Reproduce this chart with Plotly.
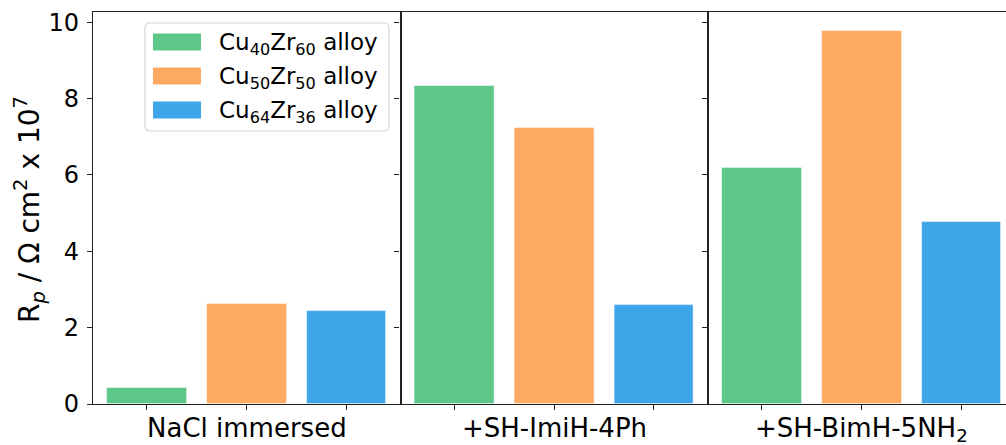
import plotly.graph_objects as go

# ---- data ----
conditions = ["NaCl immersed", "+SH-ImiH-4Ph", "+SH-BimH-5NH<sub>2</sub>"]
alloys = ["Cu<sub>40</sub>Zr<sub>60</sub> alloy",
          "Cu<sub>50</sub>Zr<sub>50</sub> alloy",
          "Cu<sub>64</sub>Zr<sub>36</sub> alloy"]
rp_cu40 = [0.43, 8.32, 6.17]
rp_cu50 = [2.63, 7.24, 9.78]
rp_cu64 = [2.43, 2.59, 4.77]
y_ticks = [0, 2, 4, 6, 8, 10]

series = [rp_cu40, rp_cu50, rp_cu64]
colors = ["#5dc689", "#ffaa63", "#3ea5e8"]

# ---- layout geometry (pixels) ----
W, H = 1006, 445
L, R, T, B = 93, 0, 12, 41
pw = W - L - R
ph = H - T - B


def px(x):
    return (x - L) / pw


def py(y):
    return (H - B - y) / ph


edges = [93, 400.5, 708, 1006]
unit = 99.8  # px per category unit
FONT = "DejaVu Sans"
FS = 23
FS_TICK = 24
FS_LABEL = 26
FS_YLABEL = 28
LINE = "#222222"

fig = go.Figure()
for j in range(3):
    for i in range(3):
        fig.add_trace(go.Bar(
            x=[i], y=[series[i][j]], width=0.8,
            marker=dict(color=colors[i], line=dict(color="rgba(255,255,255,0.6)", width=0.8)),
            name=alloys[i], showlegend=False,
            xaxis="x" if j == 0 else f"x{j+1}",
            yaxis="y" if j == 0 else f"y{j+1}",
        ))

ymax = max(max(s) for s in series) * 1.05
layout = dict(
    width=W, height=H,
    margin=dict(l=L, r=R, t=T, b=B, pad=0),
    paper_bgcolor="white", plot_bgcolor="white",
    font=dict(family=FONT, size=FS, color="black"),
    bargap=0,
)
for j in range(3):
    sx = "" if j == 0 else str(j + 1)
    d0 = 0 if j == 0 else px(edges[j])
    d1 = 1 if j == 2 else px(edges[j + 1])
    span = (edges[j + 1] - edges[j]) / unit
    layout[f"xaxis{sx}"] = dict(
        domain=[d0, d1], range=[-0.54, -0.54 + span],
        tickvals=[0, 1, 2], showticklabels=False,
        ticks="outside", ticklen=5, tickwidth=1.2, tickcolor=LINE,
        showline=True, linecolor=LINE, linewidth=1.2, mirror=True,
        showgrid=False, zeroline=False, anchor="y" if j == 0 else f"y{sx}",
        fixedrange=True,
    )
    layout[f"yaxis{sx}"] = dict(
        range=[0, ymax], tickvals=y_ticks, showticklabels=(j == 0),
        ticks="outside", ticklen=5, tickwidth=1.2, tickcolor=LINE,
        tickfont=dict(size=FS_TICK, color="black"),
        ticklabelstandoff=3,
        showline=True, linecolor=LINE, linewidth=1.2,
        mirror=(j != 2),
        showgrid=False, zeroline=False,
        anchor="x" if j == 0 else f"x{sx}",
        matches=None if j == 0 else "y",
    )
fig.update_layout(**layout)

annotations = []
for j in range(3):
    annotations.append(dict(
        text=conditions[j], xref="x" if j == 0 else f"x{j+1}", x=1,
        yref="paper", y=py(411), xanchor="center", yanchor="top",
        showarrow=False, font=dict(size=FS_LABEL, color="black"),
    ))
annotations.append(dict(
    text="R<sub><i>p</i></sub> / Ω cm<sup>2</sup> x 10<sup>7</sup>",
    xref="paper", yref="paper", x=px(30), y=py(210),
    xanchor="center", yanchor="middle", textangle=-90,
    showarrow=False, font=dict(size=FS_YLABEL, color="black"),
))

# ---- legend (drawn manually to match patch shapes) ----
shapes = []
lx0, lx1, ly0, ly1 = 145, 389, 23, 131
r = 5
path = (f"M {px(lx0 + r)},{py(ly0)} L {px(lx1 - r)},{py(ly0)} "
        f"Q {px(lx1)},{py(ly0)} {px(lx1)},{py(ly0 + r)} "
        f"L {px(lx1)},{py(ly1 - r)} Q {px(lx1)},{py(ly1)} {px(lx1 - r)},{py(ly1)} "
        f"L {px(lx0 + r)},{py(ly1)} Q {px(lx0)},{py(ly1)} {px(lx0)},{py(ly1 - r)} "
        f"L {px(lx0)},{py(ly0 + r)} Q {px(lx0)},{py(ly0)} {px(lx0 + r)},{py(ly0)} Z")
shapes.append(dict(type="path", xref="paper", yref="paper", path=path,
                   fillcolor="rgba(255,255,255,0.8)", line=dict(color="#d6d6d6", width=1.2)))
row_y = [42, 76, 110]
for i in range(3):
    shapes.append(dict(type="rect", xref="paper", yref="paper",
                       x0=px(153), x1=px(201), y0=py(row_y[i] - 8.5), y1=py(row_y[i] + 8.5),
                       fillcolor=colors[i], line=dict(width=0)))
    annotations.append(dict(
        text=alloys[i], xref="paper", yref="paper", x=px(217), y=py(row_y[i] - 15),
        xanchor="left", yanchor="top", showarrow=False,
        font=dict(size=FS, color="black"),
    ))

fig.update_layout(annotations=annotations, shapes=shapes)
fig.write_html("out.html")
